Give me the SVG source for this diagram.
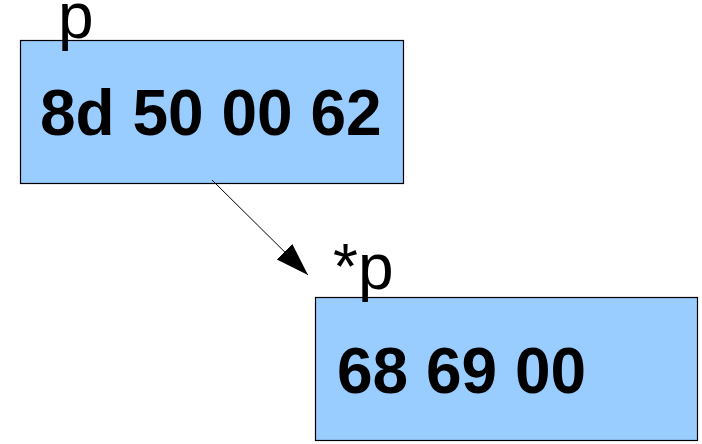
<svg xmlns="http://www.w3.org/2000/svg" width="702" height="444" viewBox="0 0 702 444">
<style>
.box{fill:#99ccff;stroke:#000;stroke-width:1.2}
.val{font-family:"Liberation Sans",Arial,sans-serif;font-weight:bold;font-size:64px;fill:#000}
.lbl{font-family:"Liberation Sans",Arial,sans-serif;font-size:64px;fill:#000}
.conn{stroke:#000;stroke-width:1;fill:none}
</style>
<defs>
<marker id="ah" markerUnits="userSpaceOnUse" markerWidth="36" markerHeight="24" refX="33" refY="11" orient="auto">
<path d="M0,0 L33,11 L0,22 Z" fill="#000"/>
</marker>
</defs>
<g id="node-p">
<rect class="box" x="20.5" y="40.5" width="383" height="143"/>
<text class="val" x="40" y="135">8d 50 00 62</text>
<text class="lbl" x="58" y="38">p</text>
</g>
<g id="node-star-p">
<rect class="box" x="315.5" y="297.5" width="382" height="143"/>
<text class="val" x="337" y="393">68 69 00</text>
<text class="lbl" x="333" y="289">*p</text>
</g>
<g id="connectors">
<line class="conn" x1="212" y1="180" x2="308" y2="275" marker-end="url(#ah)"/>
</g>
</svg>
